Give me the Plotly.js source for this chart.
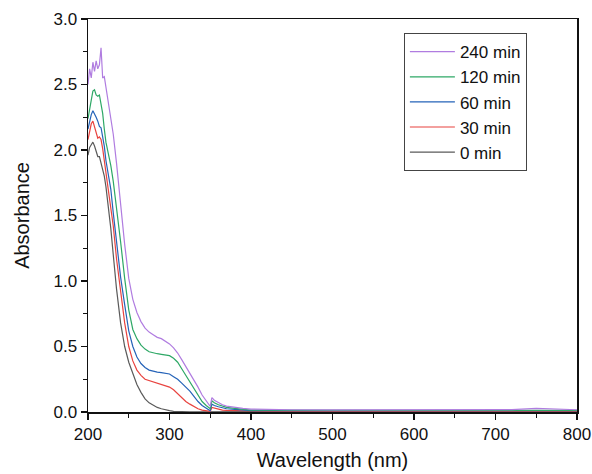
<!DOCTYPE html>
<html>
<head>
<meta charset="utf-8">
<script src="https://cdn.plot.ly/plotly-3.0.1.min.js"></script>
<style>html,body{margin:0;padding:0;background:#fff;}#chart{width:592px;height:474px;}</style>
</head>
<body>
<div id="chart"></div>
<script>
// Wavelength grid (nm)
const wavelength = [200,202,204,206,208,210,212,214,216,218,220,222,225,228,231,235,240,245,250,255,260,265,270,275,280,285,290,295,300,305,310,315,320,325,330,335,340,345,349,350,352,355,360,365,370,380,390,400,420,450,500,550,600,650,700,720,750,780,800];

// Absorbance series
const abs0 = [1.96,2.02,2.04,2.06,2.03,1.99,1.95,1.95,1.90,1.85,1.80,1.72,1.58,1.40,1.20,0.94,0.68,0.50,0.38,0.29,0.21,0.15,0.10,0.07,0.05,0.035,0.025,0.015,0.010,0.005,0.003,0.002,0.002,0.002,0.002,0.002,0.002,0.002,0.002,0.002,0.004,0.004,0.003,0.003,0.003,0.003,0.003,0.003,0.003,0.003,0.003,0.003,0.003,0.003,0.003,0.003,0.003,0.003,0.003];
const abs30 = [2.08,2.15,2.20,2.22,2.17,2.12,2.09,2.10,2.08,2.01,1.92,1.85,1.72,1.58,1.42,1.17,0.90,0.68,0.50,0.39,0.32,0.28,0.25,0.24,0.23,0.22,0.21,0.20,0.19,0.17,0.14,0.11,0.08,0.06,0.04,0.025,0.015,0.010,0.005,0.005,0.035,0.030,0.020,0.015,0.012,0.010,0.008,0.007,0.006,0.006,0.006,0.006,0.006,0.006,0.006,0.006,0.007,0.006,0.006];
const abs60 = [2.16,2.22,2.27,2.30,2.28,2.25,2.22,2.18,2.17,2.10,2.03,1.92,1.82,1.70,1.52,1.30,1.03,0.82,0.62,0.50,0.42,0.37,0.34,0.32,0.31,0.305,0.30,0.295,0.29,0.27,0.25,0.22,0.19,0.16,0.12,0.08,0.05,0.03,0.015,0.010,0.060,0.050,0.040,0.030,0.025,0.020,0.015,0.010,0.010,0.010,0.010,0.010,0.010,0.010,0.010,0.010,0.011,0.010,0.010];
const abs120 = [2.24,2.30,2.38,2.45,2.46,2.42,2.41,2.42,2.36,2.28,2.16,2.06,1.97,1.88,1.76,1.57,1.30,1.02,0.78,0.63,0.56,0.51,0.48,0.46,0.45,0.445,0.44,0.435,0.43,0.41,0.38,0.33,0.28,0.23,0.17,0.12,0.08,0.05,0.03,0.025,0.085,0.070,0.055,0.045,0.035,0.028,0.020,0.015,0.014,0.013,0.013,0.013,0.013,0.013,0.013,0.014,0.015,0.013,0.013];
const abs240 = [2.50,2.62,2.55,2.67,2.60,2.68,2.62,2.65,2.78,2.55,2.56,2.48,2.34,2.25,2.12,1.90,1.58,1.28,1.02,0.86,0.76,0.69,0.64,0.61,0.59,0.57,0.56,0.54,0.52,0.49,0.45,0.40,0.35,0.30,0.25,0.19,0.13,0.08,0.05,0.045,0.110,0.090,0.070,0.055,0.045,0.035,0.028,0.022,0.018,0.017,0.016,0.016,0.016,0.016,0.017,0.018,0.028,0.018,0.017];

const names = ["0 min","30 min","60 min","120 min","240 min"];
const colors = ["#5a5a5a","#e8433f","#2563b8","#2ea866","#b07ce0"];
const series = [abs0, abs30, abs60, abs120, abs240];

const traces = series.map((ys, i) => ({
  x: wavelength, y: ys, type: "scatter", mode: "lines", name: names[i],
  line: {color: colors[i], width: 1.2},
  legendrank: 100 - i
}));

const fontFam = "Liberation Sans, Arial, sans-serif";
const layout = {
  width: 592, height: 474,
  margin: {l: 88, r: 15, t: 19, b: 62},
  paper_bgcolor: "#fff", plot_bgcolor: "#fff",
  font: {family: fontFam, color: "#111", size: 17},
  showlegend: true,
  legend: {
    x: 0.646, y: 0.964, xanchor: "left", yanchor: "top",
    itemwidth: 45,
    bordercolor: "#444", borderwidth: 1, bgcolor: "#fff",
    font: {family: fontFam, size: 17, color: "#111"}
  },
  xaxis: {
    range: [200, 800], tickmode: "linear", tick0: 200, dtick: 100,
    ticks: "outside", ticklen: 6, tickwidth: 1.5, tickcolor: "#111",
    minor: {dtick: 50, ticks: "outside", ticklen: 4, tickwidth: 1.2, tickcolor: "#111"},
    showline: true, linecolor: "#111", linewidth: 1.5, mirror: true,
    showgrid: false, zeroline: false,
    tickfont: {size: 17},
    title: {text: "Wavelength (nm)", font: {size: 20}, standoff: 10}
  },
  yaxis: {
    range: [0, 3.0], tickmode: "linear", tick0: 0, dtick: 0.5, tickformat: ".1f",
    ticks: "outside", ticklen: 6, tickwidth: 1.5, tickcolor: "#111",
    minor: {dtick: 0.25, ticks: "outside", ticklen: 4, tickwidth: 1.2, tickcolor: "#111"},
    showline: true, linecolor: "#111", linewidth: 1.5, mirror: true,
    showgrid: false, zeroline: false,
    tickfont: {size: 17},
    title: {text: "Absorbance", font: {size: 20}, standoff: 18}
  }
};

Plotly.newPlot("chart", traces, layout, {displayModeBar: false, staticPlot: true});
</script>
</body>
</html>
